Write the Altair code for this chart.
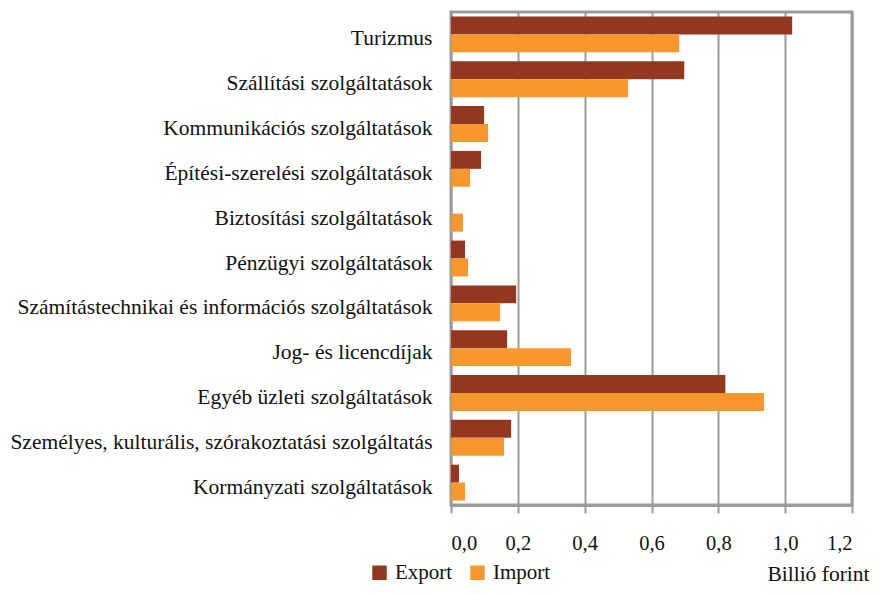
import altair as alt
import pandas as pd

categories = [
    "Turizmus",
    "Szállítási szolgáltatások",
    "Kommunikációs szolgáltatások",
    "Építési-szerelési szolgáltatások",
    "Biztosítási szolgáltatások",
    "Pénzügyi szolgáltatások",
    "Számítástechnikai és információs szolgáltatások",
    "Jog- és licencdíjak",
    "Egyéb üzleti szolgáltatások",
    "Személyes, kulturális, szórakoztatási szolgáltatás",
    "Kormányzati szolgáltatások",
]
export_vals = [1.021, 0.698, 0.099, 0.090, 0.0, 0.042, 0.195, 0.168, 0.821, 0.180, 0.024]
import_vals = [0.683, 0.530, 0.111, 0.057, 0.036, 0.051, 0.147, 0.359, 0.937, 0.159, 0.042]
series = ["Export", "Import"]
colors = ["#943720", "#F8972D"]

rows = []
for c, e, i in zip(categories, export_vals, import_vals):
    rows.append({"cat": c, "series": "Export", "value": e})
    rows.append({"cat": c, "series": "Import", "value": i})
df = pd.DataFrame(rows)

FONT = "'Liberation Serif', 'Times New Roman', 'DejaVu Serif', serif"

chart = alt.Chart(df).mark_bar().encode(
    y=alt.Y("cat:N", sort=categories, scale=alt.Scale(paddingInner=0.2, paddingOuter=0.1),
            axis=alt.Axis(title=None, ticks=False, domain=False, labelPadding=19, labelOffset=5,
                          labelFont=FONT, labelFontSize=21.5, labelColor="#111", labelLimit=600)),
    yOffset=alt.YOffset("series:N", sort=series),
    x=alt.X("value:Q", scale=alt.Scale(domain=[0, 1.2], nice=False),
            axis=alt.Axis(title="Billió forint", values=[0, 0.2, 0.4, 0.6, 0.8, 1.0, 1.2],
                          format=".1f", labelExpr="replace(datum.label, '.', ',')",
                          grid=True, gridColor="#999ba0", gridWidth=2,
                          domain=True, domainColor="#999ba0", domainWidth=3,
                          ticks=True, tickColor="#999ba0", tickWidth=2, tickSize=8,
                          labelPadding=20, labelFont=FONT, labelFontSize=20.5, labelColor="#111",
                          titleFont=FONT, titleFontSize=21.5, titleFontWeight="normal", titleColor="#111",
                          titleAnchor="end", titleAlign="right", titleX=418, titleY=75,
                          titleBaseline="alphabetic")),
    color=alt.Color("series:N", sort=series, scale=alt.Scale(domain=series, range=colors),
                    legend=alt.Legend(title=None, orient="none", legendX=-82, legendY=550,
                                      direction="horizontal", symbolType="square", symbolSize=210,
                                      symbolStrokeWidth=0, labelFont=FONT, labelFontSize=21,
                                      labelColor="#111", columnPadding=14, labelOffset=5)),
).properties(
    width=401, height=493,
    autosize=alt.AutoSizeParams(type="none"),
    padding={"left": 443, "top": 4, "right": 20, "bottom": 82},
).configure_view(
    stroke="#999ba0", strokeWidth=3
)

chart.save("out.html", embed_options={"renderer": "svg", "actions": False})
